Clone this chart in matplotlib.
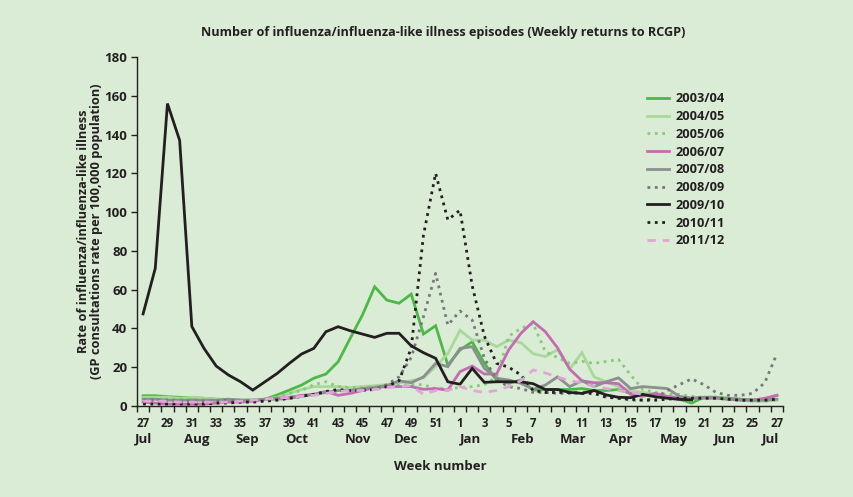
import numpy as np
import matplotlib.pyplot as plt

plt.rcParams['font.family'] = ['Open Sans', 'DejaVu Sans']
plt.rcParams['font.weight'] = 'bold'

# week 27 of one year to week 27 of the next
weeks = list(range(27, 53)) + list(range(1, 28))
months = ["Jul", "Aug", "Sep", "Oct", "Nov", "Dec", "Jan", "Feb", "Mar", "Apr", "May", "Jun", "Jul"]
month_pos = [0, 4.4, 8.5, 12.6, 17.6, 21.6, 26.9, 31.1, 35.3, 39.2, 43.5, 47.75, 51.5]

seasons = ["2003/04", "2004/05", "2005/06", "2006/07", "2007/08",
           "2008/09", "2009/10", "2010/11", "2011/12"]

s0304 = [5.3, 5.3, 4.8, 4.5, 4.3, 4.0, 3.5, 3.2, 3.0, 3.0,
         3.5, 5.7, 8.2, 10.8, 14.3, 16.5, 22.8, 35.0, 47.0, 61.5,
         54.6, 53.0, 57.7, 37.1, 41.4, 21.1, 28.9, 33.1, 22.0, 13.4,
         11.7, 13.4, 8.2, 8.5, 8.5, 8.5, 9.0, 8.0, 8.0, 8.5,
         6.5, 5.5, 5.5, 4.5, 3.5, 1.5, 4.5, 4.5, 4.0, 3.5,
         3.0, 3.5, 5.5]
s0405 = [4.5, 4.5, 4.5, 4.0, 4.5, 4.0, 3.5, 3.5, 3.0, 3.0,
         3.5, 4.5, 6.5, 8.5, 10.0, 10.0, 10.0, 9.5, 10.0, 10.5,
         11.0, 12.0, 13.0, 14.5, 20.3, 27.0, 39.0, 34.0, 34.0, 30.6,
         34.0, 32.6, 27.0, 25.5, 29.0, 19.0, 27.5, 15.0, 12.5, 10.0,
         8.0, 7.0, 6.0, 5.0, 4.5, 4.0, 4.5, 4.5, 3.5, 3.0,
         2.5, 2.5, 3.0]
s0506 = [3.0, 3.0, 3.5, 3.5, 3.5, 3.0, 3.0, 3.0, 3.0, 3.0,
         3.5, 4.5, 6.5, 8.0, 11.0, 12.5, 10.0, 9.5, 9.5, 10.0,
         10.5, 11.0, 11.0, 11.0, 9.0, 9.0, 9.5, 10.0, 11.0, 15.0,
         36.0, 40.0, 42.5, 28.0, 25.0, 22.0, 23.0, 22.0, 23.0, 24.0,
         16.0, 8.5, 7.0, 6.0, 6.0, 5.0, 4.5, 4.0, 3.5, 3.0,
         2.5, 2.5, 3.0]
s0607 = [2.0, 1.5, 1.0, 1.0, 1.0, 1.0, 1.5, 2.0, 2.0, 2.5,
         3.5, 4.0, 4.5, 5.5, 6.0, 7.5, 5.5, 6.5, 8.0, 9.5,
         10.0, 10.0, 10.0, 8.6, 9.0, 8.2, 17.7, 20.6, 16.5, 16.5,
         29.0, 37.5, 43.5, 38.3, 30.0, 19.0, 13.0, 12.0, 12.0, 11.5,
         6.0, 5.0, 6.5, 5.0, 4.0, 4.0, 4.0, 4.0, 3.5, 3.0,
         3.0, 4.0, 5.5]
s0708 = [3.5, 3.5, 3.0, 3.0, 3.0, 3.0, 3.0, 3.5, 3.0, 3.0,
         3.5, 3.5, 4.0, 5.0, 6.0, 7.0, 8.0, 8.0, 9.0, 9.5,
         10.5, 13.0, 12.0, 15.0, 22.0, 20.3, 29.7, 30.6, 19.4, 14.3,
         13.4, 11.7, 8.6, 10.8, 15.0, 10.0, 13.0, 10.0, 12.5, 14.5,
         9.0, 10.0, 9.5, 9.0, 5.0, 4.0, 4.5, 4.5, 3.5, 3.5,
         3.0, 3.0, 3.5]
s0809 = [3.0, 3.0, 3.0, 2.5, 2.5, 2.5, 2.5, 3.0, 2.5, 2.5,
         3.0, 3.5, 4.0, 5.0, 6.0, 7.0, 8.0, 8.0, 8.5, 9.0,
         11.0, 15.0, 25.0, 46.0, 68.4, 41.7, 49.0, 44.3, 24.6, 13.4,
         10.0, 9.0, 7.0, 7.0, 6.5, 6.5, 7.0, 7.5, 5.0, 4.0,
         3.0, 3.0, 4.0, 8.0, 11.0, 14.0, 11.0, 7.0, 5.5, 5.5,
         6.5, 12.0, 27.0]
s0910 = [47.5, 71.0, 156.0, 137.0, 41.0, 29.7, 20.6, 16.0, 12.5, 8.2,
         12.5, 16.8, 22.0, 26.8, 29.7, 38.3, 40.9, 38.8, 37.1, 35.4,
         37.5, 37.5, 31.0, 27.5, 24.6, 12.5, 11.2, 19.4, 12.2, 12.5,
         12.5, 12.5, 11.5, 8.5, 8.5, 7.0, 6.5, 8.0, 5.7, 4.5,
         4.3, 6.0, 4.8, 4.0, 3.4, 3.2]
s1011 = [1.0, 1.0, 1.0, 1.0, 1.0, 1.0, 1.5, 1.5, 2.0, 2.0,
         2.5, 3.0, 4.0, 5.0, 6.0, 7.5, 8.5, 8.0, 8.0, 8.5,
         10.0, 13.0, 30.0, 88.0, 120.0, 96.0, 101.0, 62.0, 36.0, 22.0,
         20.0, 16.0, 8.0, 7.0, 7.0, 7.0, 6.5, 6.5, 4.5, 4.0,
         3.5, 3.0, 3.0, 3.5, 4.0, 4.0, 4.0, 4.0, 3.5, 3.0,
         3.0, 3.0, 3.5]
s1112 = [2.5, 2.5, 2.5, 2.0, 2.0, 2.0, 2.0, 2.0, 2.5, 3.0,
         3.5, 4.0, 4.5, 5.0, 5.5, 6.5, 7.5, 8.0, 8.0, 8.5,
         9.5, 10.0, 10.5, 6.0, 8.0, 8.0, 10.0, 8.0, 7.0, 8.0,
         10.0, 13.0, 18.6, 17.0, 15.0, 13.0, 12.0, 10.0, 9.0, 8.0,
         7.0, 6.0]

series = [s0304, s0405, s0506, s0607, s0708, s0809, s0910, s1011, s1112]
colors = ["#4db848", "#a8d99a", "#86cc78", "#c66bb3", "#8c8e90",
          "#76787a", "#231f20", "#231f20", "#e2a5d8"]
styles = ["-", "-", ":", "-", "-", ":", "-", ":", (0, (3, 2.5))]

bg = "#daecd5"
txt = "#231f20"

fig = plt.figure(figsize=(8.54, 4.97), dpi=100, facecolor=bg)
ax = fig.add_axes([0.1604, 0.1831, 0.7565, 0.7022])
ax.set_facecolor(bg)

for name, vals, c, ls in zip(seasons, series, colors, styles):
    ax.plot(np.arange(len(vals)), vals, color=c, linestyle=ls, lw=2.0,
            label=name, solid_joinstyle="miter")

ax.set_xlim(-0.5, len(weeks) - 0.5)
ax.set_ylim(0, 180)
ax.set_yticks(np.arange(0, 181, 20))
ax.tick_params(axis="y", labelsize=9.5, colors=txt, length=4, width=1, pad=3)

# week ticks between categories, labels every other week
ax.set_xticks(np.arange(-0.5, len(weeks), 1.0))
ax.set_xticklabels([])
ax.tick_params(axis="x", which="major", length=4, width=1, colors=txt)
ax.set_xticks(np.arange(0, len(weeks), 2), minor=True)
ax.set_xticklabels([str(w) for w in weeks[::2]], minor=True)
ax.tick_params(axis="x", which="minor", length=0, labelsize=8.3, pad=8, labelcolor=txt)

for s in ["top", "right"]:
    ax.spines[s].set_visible(False)
for s in ["left", "bottom"]:
    ax.spines[s].set_color(txt)
    ax.spines[s].set_linewidth(1)

for m, p in zip(months, month_pos):
    ax.text(p, -0.095, m, transform=ax.get_xaxis_transform(), ha="center",
            va="center", fontsize=9.5, color=txt, fontweight="bold")

ax.set_ylabel("Rate of influenza/influenza-like illness\n(GP consultations rate per 100,000 population)",
              fontsize=9.2, color=txt, fontweight="bold", labelpad=1, linespacing=1.0)

fig.text(0.516, 0.062, "Week number", ha="center", va="center",
         fontsize=9.5, color=txt, fontweight="bold")
fig.text(0.519, 0.934, "Number of influenza/influenza-like illness episodes (Weekly returns to RCGP)",
         ha="center", va="center", fontsize=9.1, color=txt, fontweight="bold")

leg = ax.legend(loc="upper left", bbox_to_anchor=(0.758, 0.814),
                bbox_transform=fig.transFigure, frameon=False, fontsize=9.2,
                handlelength=1.7, handletextpad=0.5, labelspacing=0.37,
                borderpad=0, borderaxespad=0)
for t in leg.get_texts():
    t.set_color(txt)

fig.savefig("out.png", dpi=100, facecolor=bg)
